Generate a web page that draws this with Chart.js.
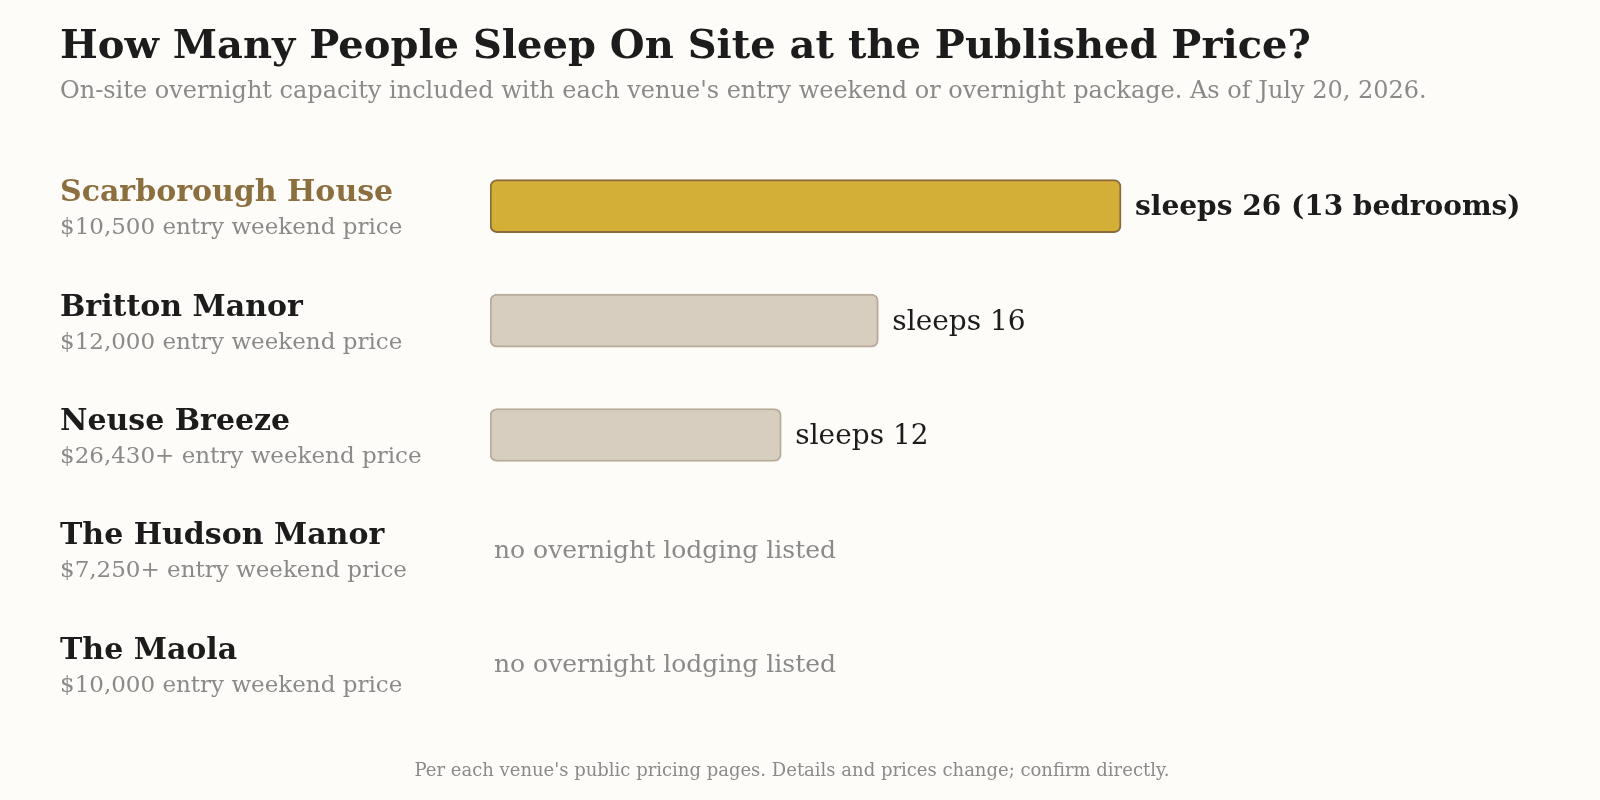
<!DOCTYPE html>
<html><head><meta charset="utf-8">
<script src="https://cdn.jsdelivr.net/npm/chart.js@4/dist/chart.umd.min.js"></script>
<style>html,body{margin:0;background:#fdfcf9;}canvas{display:block;}</style>
</head><body>
<canvas id="c" width="1600" height="800"></canvas>
<script>
const venues = ["Scarborough House","Britton Manor","Neuse Breeze","The Hudson Manor","The Maola"];
const prices = ["$10,500 entry weekend price","$12,000 entry weekend price","$26,430+ entry weekend price","$7,250+ entry weekend price","$10,000 entry weekend price"];
const sleeps = [26,16,12,null,null];
const valueLabels = ["sleeps 26 (13 bedrooms)","sleeps 16","sleeps 12","no overnight lodging listed","no overnight lodging listed"];
const title = "How Many People Sleep On Site at the Published Price?";
const subtitle = "On-site overnight capacity included with each venue's entry weekend or overnight package. As of July 20, 2026.";
const footer = "Per each venue's public pricing pages. Details and prices change; confirm directly.";
const F = '"DejaVu Serif", serif';

const textPlugin = {
  id:'texts',
  beforeDraw(ch){const c=ch.ctx;c.save();c.fillStyle='#fdfcf9';c.fillRect(0,0,ch.width,ch.height);c.restore();},
  afterDraw(ch){
    const c=ch.ctx, xs=ch.scales.x, ys=ch.scales.y;
    c.save();
    c.textBaseline='alphabetic';c.textAlign='left';
    c.fillStyle='#1c1c1c';c.font='bold 40px '+F;c.fillText(title,60,58);
    c.fillStyle='#8a8a8a';c.font='24px '+F;c.fillText(subtitle,60,98);
    venues.forEach((v,i)=>{
      const y=ys.getPixelForValue(i);
      c.textAlign='left';
      c.fillStyle=i===0?'#8b6f3e':'#1c1c1c';c.font='bold 30px '+F;c.fillText(v,60,y-5);
      c.fillStyle='#8a8a8a';c.font='23px '+F;c.fillText(prices[i],60,y+28);
      c.textBaseline='middle';
      if(sleeps[i]!=null){
        const x=xs.getPixelForValue(sleeps[i])+14;
        c.fillStyle='#1c1c1c';c.font=(i===0?'bold ':'')+'28px '+F;c.fillText(valueLabels[i],x,y+2);
      } else {
        c.fillStyle='#8a8a8a';c.font='25px '+F;c.fillText(valueLabels[i],xs.getPixelForValue(0)+4,y+2);
      }
      c.textBaseline='alphabetic';
    });
    c.textAlign='center';c.fillStyle='#8a8a8a';c.font='18px '+F;c.fillText(footer,792,776);
    c.restore();
  }
};

new Chart(document.getElementById('c'),{
  type:'bar',
  data:{labels:venues,datasets:[{data:sleeps,
    backgroundColor:sleeps.map((v,i)=>i===0?'#d4af37':'#d8cebf'),
    borderColor:sleeps.map((v,i)=>i===0?'#8a6d3b':'#b8ab98'),
    borderWidth:2,borderRadius:7,borderSkipped:false,barThickness:53}]},
  options:{indexAxis:'y',responsive:false,animation:false,
    layout:{padding:{left:490,right:60,top:149,bottom:79}},
    plugins:{legend:{display:false},tooltip:{enabled:false}},
    scales:{x:{min:0,max:43.26,display:false},y:{display:false}}
  },
  plugins:[textPlugin]
});
</script>
</body></html>
